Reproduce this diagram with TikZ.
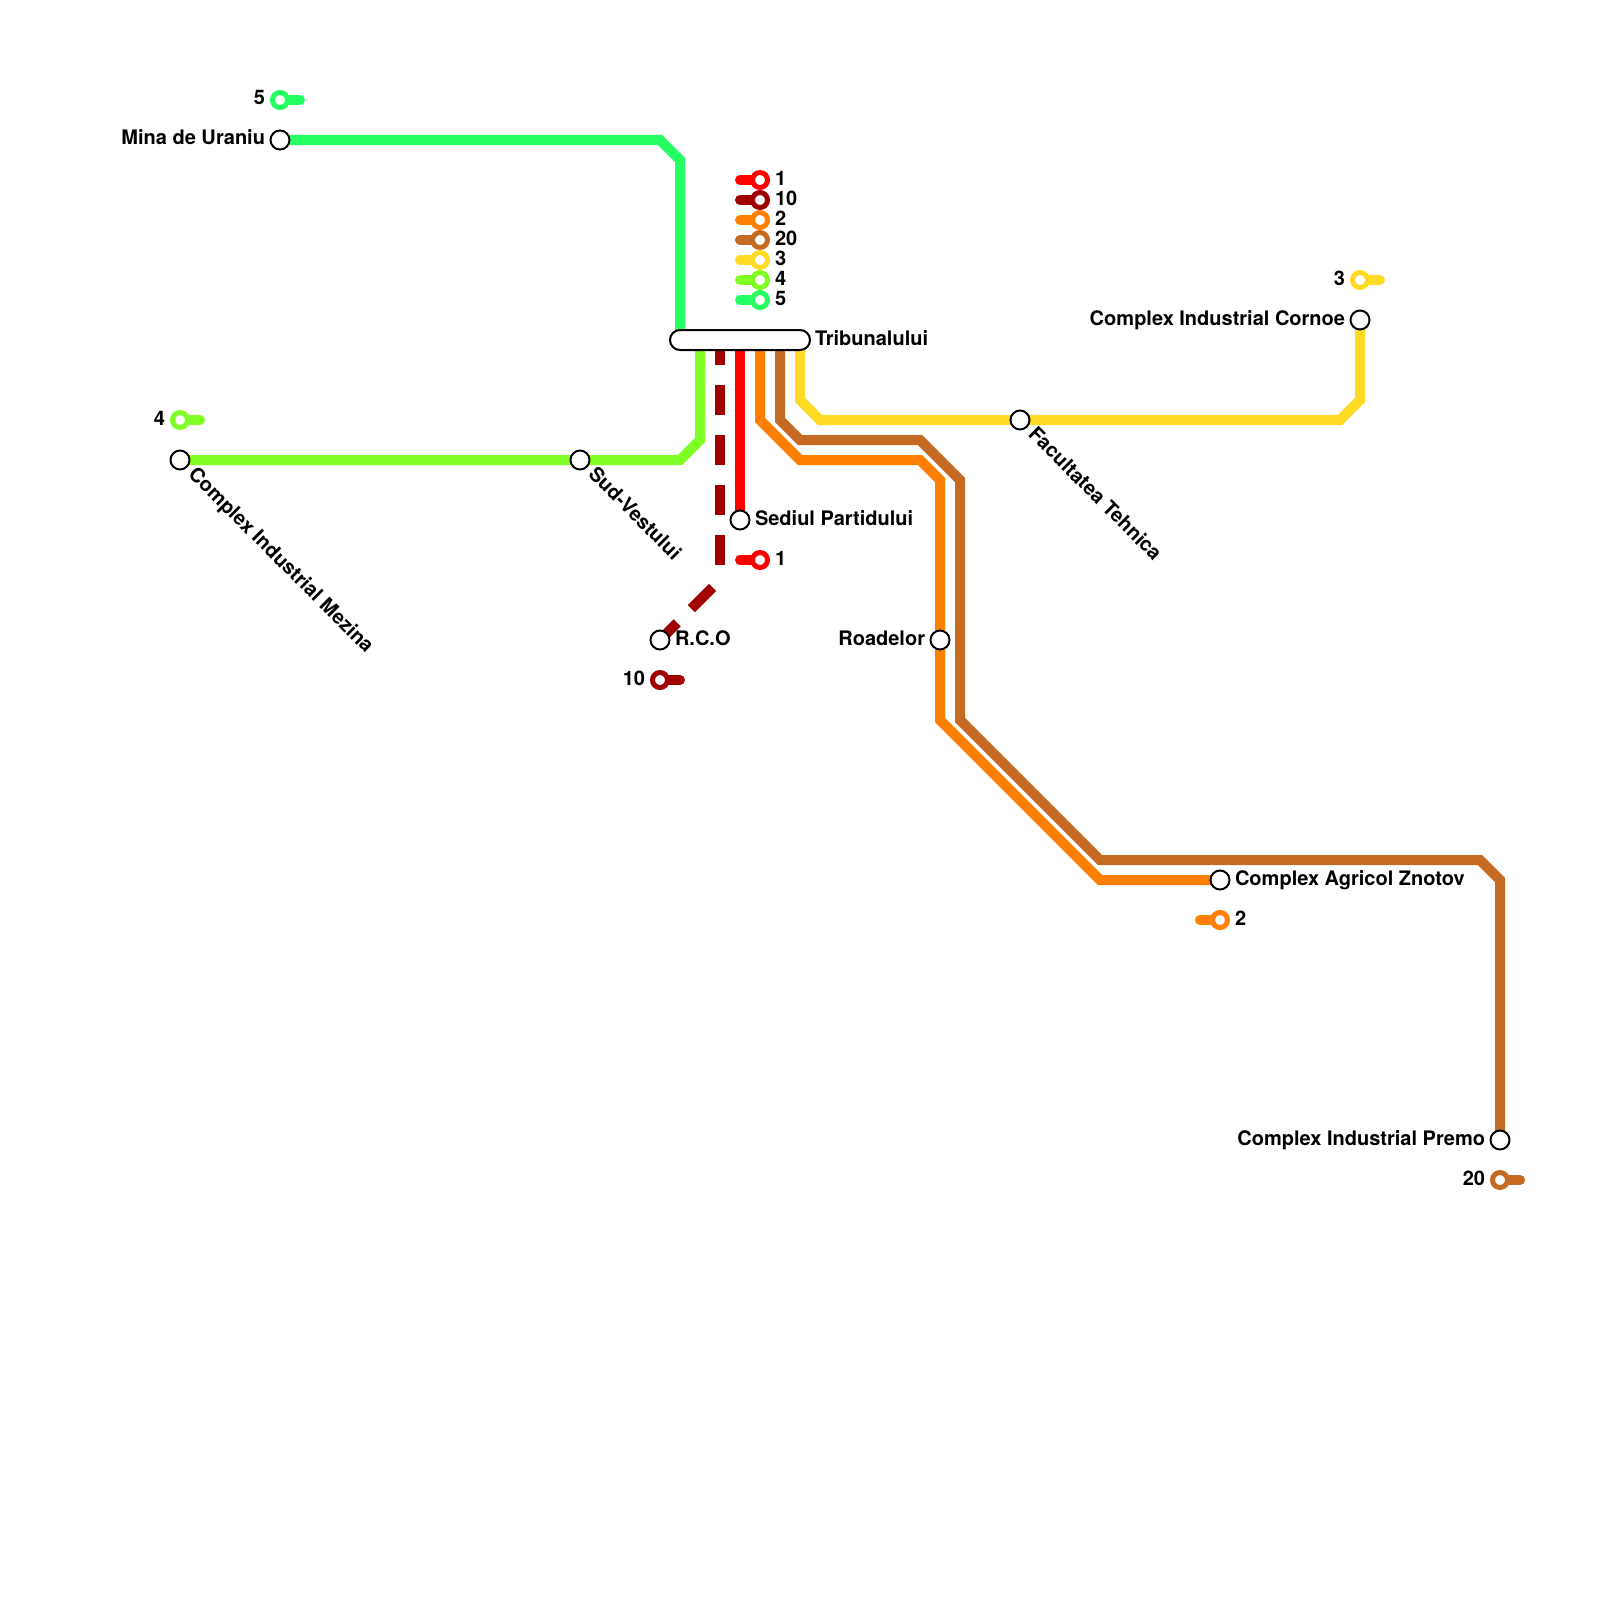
\documentclass[tikz,border=0pt]{standalone}
\usepackage{fontspec}
\setmainfont{TeX Gyre Heros}
\usepackage{xcolor}
\usetikzlibrary{positioning,calc,backgrounds}
\definecolor{lineone}{HTML}{FF0000}
\definecolor{lineten}{HTML}{A00000}
\definecolor{linetwo}{HTML}{FF7F00}
\definecolor{linetwenty}{HTML}{C46A22}
\definecolor{linethree}{HTML}{FFDB26}
\definecolor{linefour}{HTML}{7FFF26}
\definecolor{linefive}{HTML}{26FF62}
\tikzset{
  stn/.style={circle, draw=black, fill=white, line width=2pt, minimum size=19pt, inner sep=0pt, outer sep=0.5pt},
  stnbar/.style={rectangle, rounded corners=10pt, draw=black, fill=white, line width=2pt, minimum width=140pt, minimum height=20pt, inner sep=0pt, outer sep=0pt},
  tagdot/.style={circle, draw=#1, fill=white, line width=5pt, minimum size=15pt, inner sep=0pt, outer sep=2.5pt},
  stnlabel/.style={inner sep=0pt, outer sep=0pt, font=\bfseries\fontsize{20}{20}\selectfont, text height=14pt, text depth=4pt},
  slantlabel/.style={stnlabel, rotate=-45, anchor=west},
  route/.style={draw=#1, line width=10pt},
  stub/.style={draw=#1, line width=10pt, line cap=round},
  dashroute/.style={draw=#1, line width=10pt, dash pattern=on 30pt off 20pt}
}
\begin{document}
\begin{tikzpicture}[x=1pt,y=-1pt,node distance=5pt]
\useasboundingbox (0,0) rectangle (1600,1600);
\node[stnbar] (trib) at (740,340) {};
\node[stn] (mina) at (280,140) {};
\node[stn] (mezina) at (180,460) {};
\node[stn] (sudvest) at (580,460) {};
\node[stn] (sediul) at (740,520) {};
\node[stn] (rco) at (660,640) {};
\node[stn] (roadelor) at (940,640) {};
\node[stn] (tehnica) at (1020,420) {};
\node[stn] (cornoe) at (1360,320) {};
\node[stn] (znotov) at (1220,880) {};
\node[stn] (premo) at (1500,1140) {};
\node[tagdot=lineone] (legone) at (760,180) {};
\node[tagdot=lineten] (legten) at (760,200) {};
\node[tagdot=linetwo] (legtwo) at (760,220) {};
\node[tagdot=linetwenty] (legtwenty) at (760,240) {};
\node[tagdot=linethree] (legthree) at (760,260) {};
\node[tagdot=linefour] (legfour) at (760,280) {};
\node[tagdot=linefive] (legfive) at (760,300) {};
\node[tagdot=linefive] (tagfive) at (280,100) {};
\node[tagdot=linefour] (tagfour) at (180,420) {};
\node[tagdot=lineone] (tagone) at (760,560) {};
\node[tagdot=lineten] (tagten) at (660,680) {};
\node[tagdot=linetwo] (tagtwo) at (1220,920) {};
\node[tagdot=linetwenty] (tagtwenty) at (1500,1180) {};
\node[tagdot=linethree] (tagthree) at (1360,280) {};
\coordinate (portfive) at (680,340);
\coordinate (portfour) at (700,340);
\coordinate (portten) at (720,340);
\coordinate (bendten) at (720,580);
\coordinate (portone) at (740,340);
\coordinate (porttwo) at (760,340);
\coordinate (porttwenty) at (780,340);
\coordinate (portthree) at (800,340);
\coordinate (stublegone) at (740,180);
\coordinate (stublegten) at (740,200);
\coordinate (stublegtwo) at (740,220);
\coordinate (stublegtwenty) at (740,240);
\coordinate (stublegthree) at (740,260);
\coordinate (stublegfour) at (740,280);
\coordinate (stublegfive) at (740,300);
\coordinate (stubfive) at (300,100);
\coordinate (stubfour) at (200,420);
\coordinate (stubone) at (740,560);
\coordinate (stubten) at (680,680);
\coordinate (stubtwo) at (1200,920);
\coordinate (stubtwenty) at (1520,1180);
\coordinate (stubthree) at (1380,280);
\begin{scope}[on background layer]
\draw[route=linefive] (mina.center) -- (660,140) -- (680,160) -- (portfive);
\draw[route=linefour] (mezina.center) -- (680,460) -- (700,440) -- (portfour);
\draw[dashroute=lineten, dash phase=5pt] (portten) -- (bendten);
\draw[dashroute=lineten, dash phase=39.4pt] (bendten) -- (rco.center);
\draw[route=lineone] (portone) -- (sediul.center);
\draw[route=linetwo] (porttwo) -- (760,420) -- (800,460) -- (920,460) -- (940,480) -- (940,720) -- (1100,880) -- (znotov.center);
\draw[route=linetwenty] (porttwenty) -- (780,420) -- (800,440) -- (920,440) -- (960,480) -- (960,720) -- (1100,860) -- (1480,860) -- (1500,880) -- (premo.center);
\draw[route=linethree] (portthree) -- (800,400) -- (820,420) -- (1340,420) -- (1360,400) -- (cornoe.center);
\draw[stub=lineone] (stublegone) -- (legone.center);
\draw[stub=lineten] (stublegten) -- (legten.center);
\draw[stub=linetwo] (stublegtwo) -- (legtwo.center);
\draw[stub=linetwenty] (stublegtwenty) -- (legtwenty.center);
\draw[stub=linethree] (stublegthree) -- (legthree.center);
\draw[stub=linefour] (stublegfour) -- (legfour.center);
\draw[stub=linefive] (stublegfive) -- (legfive.center);
\draw[stub=linefive] (stubfive) -- (tagfive.center);
\draw[stub=linefour] (stubfour) -- (tagfour.center);
\draw[stub=lineone] (stubone) -- (tagone.center);
\draw[stub=lineten] (stubten) -- (tagten.center);
\draw[stub=linetwo] (stubtwo) -- (tagtwo.center);
\draw[stub=linetwenty] (stubtwenty) -- (tagtwenty.center);
\draw[stub=linethree] (stubthree) -- (tagthree.center);
\end{scope}
\node[stnlabel, right=of trib] (tribtext) {Tribunalului};
\node[stnlabel, left=of mina] (minatext) {Mina de Uraniu};
\node[slantlabel] (mezinatext) at ($(mezina)+(11,12)$) {Complex Industrial Mezina};
\node[slantlabel] (sudvesttext) at ($(sudvest)+(11,12)$) {Sud-Vestului};
\node[slantlabel] (tehnicatext) at ($(tehnica)+(11,12)$) {Facultatea Tehnica};
\node[stnlabel, right=of sediul] (sediultext) {Sediul Partidului};
\node[stnlabel, right=of rco] (rcotext) {R.C.O};
\node[stnlabel, left=of roadelor] (roadelortext) {Roadelor};
\node[stnlabel, left=of cornoe] (cornoetext) {Complex Industrial Cornoe};
\node[stnlabel, right=of znotov] (znotovtext) {Complex Agricol Znotov};
\node[stnlabel, left=of premo] (premotext) {Complex Industrial Premo};
\node[stnlabel, right=of legone] (legonetext) {1};
\node[stnlabel, right=of legten] (legtentext) {10};
\node[stnlabel, right=of legtwo] (legtwotext) {2};
\node[stnlabel, right=of legtwenty] (legtwentytext) {20};
\node[stnlabel, right=of legthree] (legthreetext) {3};
\node[stnlabel, right=of legfour] (legfourtext) {4};
\node[stnlabel, right=of legfive] (legfivetext) {5};
\node[stnlabel, left=of tagfive] (tagfivetext) {5};
\node[stnlabel, left=of tagfour] (tagfourtext) {4};
\node[stnlabel, right=of tagone] (tagonetext) {1};
\node[stnlabel, left=of tagten] (tagtentext) {10};
\node[stnlabel, right=of tagtwo] (tagtwotext) {2};
\node[stnlabel, left=of tagtwenty] (tagtwentytext) {20};
\node[stnlabel, left=of tagthree] (tagthreetext) {3};
\end{tikzpicture}
\end{document}
